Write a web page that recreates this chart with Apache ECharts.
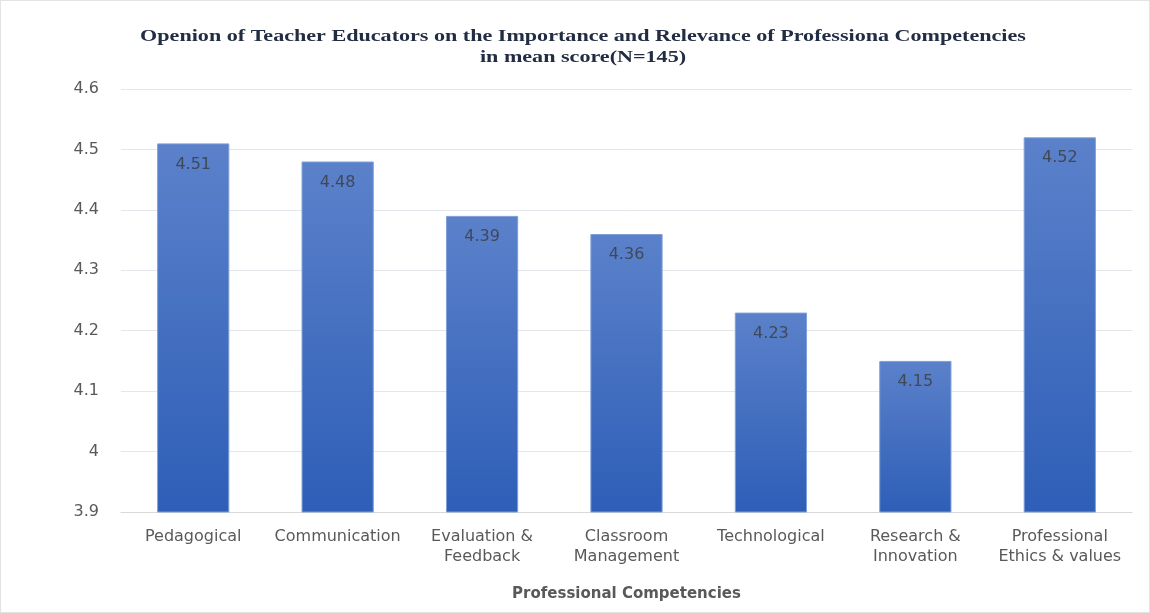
<!DOCTYPE html>
<html>
<head>
<meta charset="utf-8">
<script src="https://cdn.jsdelivr.net/npm/echarts@6/dist/echarts.min.js"></script>
<style>
  html, body { margin: 0; padding: 0; background: #fff; }
  #chart { width: 1150px; height: 613px; box-sizing: border-box; border: 1px solid #e3e3e3; }
</style>
</head>
<body>
<div id="chart"></div>
<script>
// Competency areas (x axis) and their mean scores
const categories = [
  'Pedagogical',
  'Communication',
  'Evaluation &\nFeedback',
  'Classroom\nManagement',
  'Technological',
  'Research &\nInnovation',
  'Professional\nEthics & values'
];
const meanScores = [4.51, 4.48, 4.39, 4.36, 4.23, 4.15, 4.52];
const yTicks = { min: 3.9, max: 4.6, step: 0.1 };
const titleLines = [
  'Openion of Teacher Educators on the Importance and Relevance of Professiona Competencies',
  'in mean score(N=145)'
];

const chart = echarts.init(document.getElementById('chart'), null, { renderer: 'canvas' });

chart.setOption({
  animation: false,
  backgroundColor: '#ffffff',
  // Wide serif title drawn as a horizontally scaled text element
  graphic: [{
    type: 'text',
    x: 582,
    y: 25,
    scaleX: 1.3,
    style: {
      text: titleLines.join('\n'),
      align: 'center',
      verticalAlign: 'top',
      fontFamily: 'Liberation Serif',
      fontWeight: 'bold',
      fontSize: 17,
      lineHeight: 21,
      fill: '#222d44'
    }
  }],
  grid: { left: 120, right: 17, top: 88, bottom: 100 },
  xAxis: {
    type: 'category',
    data: categories,
    name: 'Professional Competencies',
    nameLocation: 'middle',
    nameGap: 75,
    nameTextStyle: {
      fontFamily: 'DejaVu Sans',
      fontWeight: 'bold',
      fontSize: 15,
      color: '#595959'
    },
    axisLine: { lineStyle: { color: '#d9d9d9', width: 1 } },
    axisTick: { show: false },
    axisLabel: {
      interval: 0,
      margin: 15,
      fontFamily: 'DejaVu Sans',
      fontSize: 16,
      lineHeight: 20,
      color: '#595959'
    }
  },
  yAxis: {
    type: 'value',
    min: yTicks.min,
    max: yTicks.max,
    interval: yTicks.step,
    axisLine: { show: false },
    axisTick: { show: false },
    splitLine: { lineStyle: { color: '#e3e6ea', width: 1 } },
    axisLabel: {
      margin: 22,
      fontFamily: 'DejaVu Sans',
      fontSize: 16,
      color: '#595959',
      formatter: v => String(parseFloat(v.toFixed(1)))
    }
  },
  series: [{
    type: 'bar',
    data: meanScores,
    barWidth: '50%',
    itemStyle: {
      color: new echarts.graphic.LinearGradient(0, 0, 0, 1, [
        { offset: 0, color: '#5b81ca' },
        { offset: 1, color: '#2e5eb7' }
      ]),
      borderColor: '#7e9fd8',
      borderWidth: 1
    },
    label: {
      show: true,
      position: 'insideTop',
      distance: 13,
      fontFamily: 'DejaVu Sans',
      fontSize: 16,
      color: '#404858',
      formatter: p => p.value.toFixed(2)
    }
  }]
});
</script>
</body>
</html>
